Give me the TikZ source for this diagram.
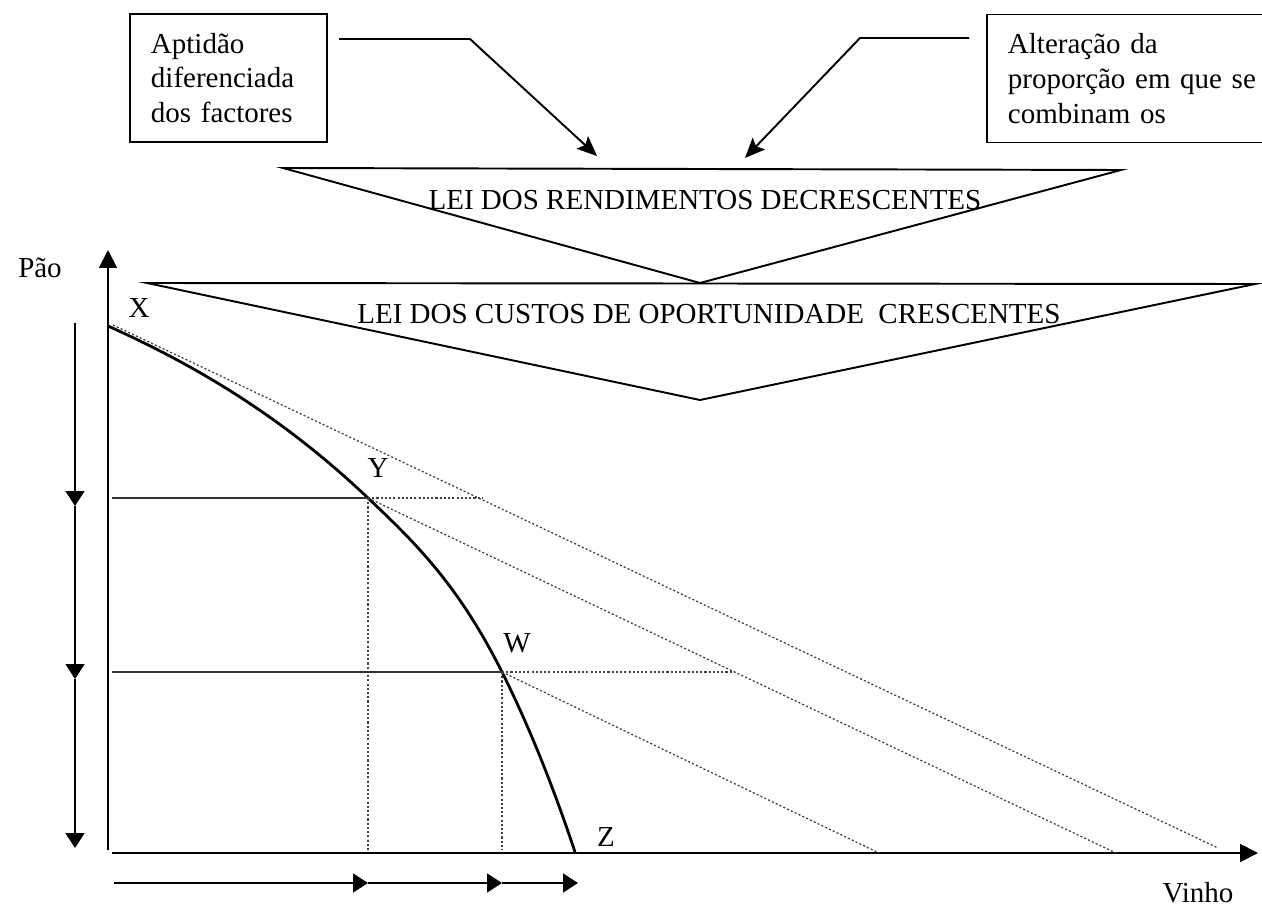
\documentclass[tikz,border=0pt]{standalone}
\usepackage{fontspec}
\setmainfont{Liberation Serif}
\usetikzlibrary{arrows.meta}
\begin{document}
\begin{tikzpicture}[x=0.02cm,y=-0.02cm,
  txt/.style={font=\fontsize{16.5}{19}\selectfont, inner sep=0pt},
  boxnode/.style={draw, line width=1.1pt, font=\fontsize{16.5}{19.8}\selectfont,
     text width=#1, align=left, inner xsep=0.42cm, minimum height=2.56cm},
  arr/.style={line width=1.1pt, -{Stealth[length=0.4cm,width=0.34cm,inset=0.08cm]}},
  tri/.style={line width=1.1pt, line join=miter},
  axis/.style={line width=1.1pt, -{Triangle[length=0.36cm,width=0.36cm]}},
  downarr/.style={line width=0.9pt, -{Triangle[length=0.3cm,width=0.38cm]}},
  curve/.style={line width=1.6pt},
  dotl/.style={line width=0.7pt, black!75, dash pattern=on 1.2pt off 1.2pt},
  thinl/.style={line width=0.6pt, black!80}]
\path[use as bounding box, fill=white] (0,0) rectangle (1262,909);

% boxes
\node[boxnode=3.1cm, anchor=west] (bl) at (129,78) {Aptidão\\diferenciada\\dos factores};
\node[boxnode=5.2cm, anchor=west] (br) at (986,78.5) {Alteração da\\proporção em que se\\combinam os};

% arrows from boxes
\coordinate (la1) at (339,39);
\coordinate (la2) at (470,39);
\coordinate (la3) at (597,156);
\coordinate (ra1) at (969,38);
\coordinate (ra2) at (860,38);
\coordinate (ra3) at (745,158);
\draw[arr] (la1) -- (la2) -- (la3);
\draw[arr] (ra1) -- (ra2) -- (ra3);

% triangles
\coordinate (t1a) at (283,168);
\coordinate (t1b) at (1121,170);
\coordinate (t1c) at (700,283);
\coordinate (t2a) at (147,283);
\coordinate (t2b) at (1255,284);
\coordinate (t2c) at (700,400);
\draw[tri] (t1a) -- (t1b) -- (t1c) -- cycle;
\draw[tri] (t2a) -- (t2b) -- (t2c) -- cycle;
\node[txt] (law1) at (705,200) {LEI DOS RENDIMENTOS DECRESCENTES};
\node[txt] (law2) at (709,314) {LEI DOS CUSTOS DE OPORTUNIDADE~ CRESCENTES};

% axes
\coordinate (O1) at (108,850);
\coordinate (Ytop) at (108,250);
\coordinate (O2) at (112,853);
\coordinate (Xend) at (1258,853);
\draw[axis] (O1) -- (Ytop);
\draw[axis] (O2) -- (Xend);
\node[txt] (pao) at (40,268) {Pão};
\node[txt] (vinho) at (1198,893) {Vinho};

% curve points
\coordinate (Xp) at (108,326);
\coordinate (Yp) at (368,498);
\coordinate (Wp) at (502,672);
\coordinate (Zp) at (575,852);
\draw[curve] (Xp) .. controls (194.7,365) and (281.3,415.7) .. (Yp)
                  .. controls (412.7,540.4) and (457.3,582.7) .. (Wp)
                  .. controls (526.3,720.7) and (550.7,779) .. (Zp);
\node[txt] (lX) at (139,308) {X};
\node[txt] (lY) at (378,468) {Y};
\node[txt] (lW) at (517,643) {W};
\node[txt] (lZ) at (606,837) {Z};

% price lines
\coordinate (p1a) at (113,325);
\coordinate (p1b) at (1218,848);
\coordinate (p2b) at (1116,853);
\coordinate (p3b) at (879,853);
\draw[dotl] (p1a) -- (p1b);
\draw[dotl] (Yp) -- (p2b);
\draw[dotl] (Wp) -- (p3b);

% projections
\coordinate (hY0) at (112,498);
\coordinate (hY1) at (483,498);
\coordinate (hW0) at (112,672);
\coordinate (hW1) at (735,672);
\coordinate (vY) at (368,850);
\coordinate (vW) at (502,850);
\draw[thinl] (hY0) -- (Yp);
\draw[dotl] (Yp) -- (hY1);
\draw[thinl] (hW0) -- (Wp);
\draw[dotl] (Wp) -- (hW1);
\draw[dotl] (Yp) -- (vY);
\draw[dotl] (Wp) -- (vW);

% left down arrows
\coordinate (d0) at (75,323);
\coordinate (d1) at (75,506);
\coordinate (d2) at (75,679);
\coordinate (d3) at (75,848);
\draw[downarr] (d0) -- (d1);
\draw[downarr] (d1) -- (d2);
\draw[downarr] (d2) -- (d3);

% bottom arrows
\coordinate (b0) at (114,883);
\coordinate (b1) at (368,883);
\coordinate (b2) at (502,883);
\coordinate (b3) at (578,883);
\draw[downarr] (b0) -- (b1);
\draw[downarr] (b1) -- (b2);
\draw[downarr] (b2) -- (b3);
\end{tikzpicture}
\end{document}
